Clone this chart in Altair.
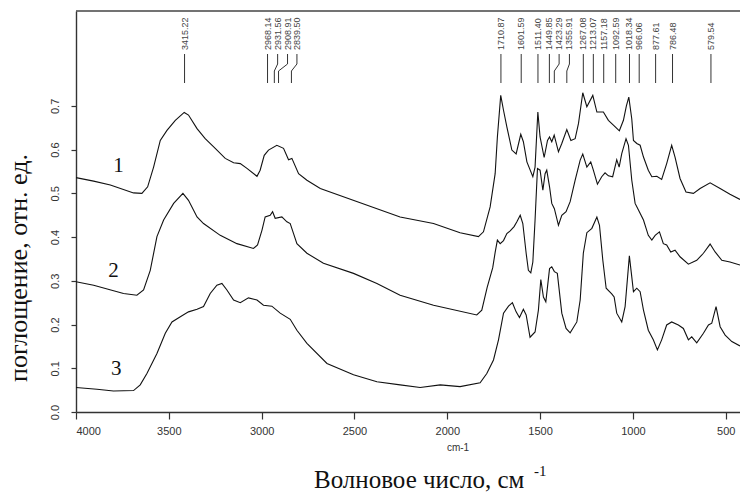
import altair as alt
import pandas as pd

# ---------------- data ----------------
wn1 = [4000, 3905, 3815, 3690, 3645, 3614, 3582, 3546, 3510, 3465, 3417, 3394, 3348, 3304, 3250, 3196,
       3151, 3115, 3079, 3025, 3008, 2986, 2963, 2918, 2882, 2855, 2837, 2801, 2756, 2684, 2254, 2074,
       1931, 1832, 1805, 1769, 1742, 1730, 1712, 1697, 1679, 1652, 1629, 1604, 1590, 1571, 1539, 1527,
       1512, 1500, 1478, 1460, 1449, 1437, 1424, 1401, 1383, 1356, 1334, 1311, 1293, 1270, 1248, 1216,
       1194, 1159, 1132, 1105, 1073, 1051, 1035, 1022, 1006, 997, 979, 961, 943, 917, 898, 871, 845,
       818, 791, 773, 746, 714, 674, 638, 584, 530, 477, 423]
a1 = [0.536, 0.528, 0.519, 0.501, 0.500, 0.515, 0.560, 0.621, 0.644, 0.667, 0.685, 0.679, 0.648, 0.625, 0.603, 0.580,
      0.570, 0.568, 0.557, 0.539, 0.553, 0.587, 0.599, 0.610, 0.603, 0.577, 0.580, 0.545, 0.530, 0.511, 0.446, 0.431,
      0.410, 0.401, 0.412, 0.469, 0.545, 0.629, 0.724, 0.690, 0.652, 0.599, 0.590, 0.635, 0.618, 0.572, 0.538, 0.560,
      0.686, 0.629, 0.582, 0.621, 0.629, 0.618, 0.633, 0.595, 0.614, 0.646, 0.621, 0.625, 0.660, 0.730, 0.698, 0.724,
      0.686, 0.686, 0.667, 0.656, 0.643, 0.667, 0.700, 0.720, 0.670, 0.621, 0.614, 0.610, 0.583, 0.553, 0.538, 0.539, 0.532,
      0.568, 0.610, 0.583, 0.534, 0.503, 0.500, 0.511, 0.524, 0.511, 0.498, 0.486]

wn2 = [4000, 3905, 3744, 3672, 3636, 3600, 3564, 3528, 3474, 3424, 3394, 3348, 3313, 3223, 3133, 3044,
       3022, 2998, 2981, 2954, 2941, 2927, 2891, 2864, 2846, 2828, 2810, 2756, 2667, 2505, 2379, 2254,
       2074, 1841, 1814, 1785, 1755, 1742, 1730, 1715, 1697, 1679, 1661, 1640, 1625, 1607, 1593, 1575,
       1563, 1550, 1539, 1527, 1514, 1500, 1485, 1473, 1464, 1449, 1437, 1423, 1401, 1383, 1360, 1338,
       1311, 1284, 1270, 1248, 1227, 1213, 1191, 1168, 1150, 1132, 1109, 1087, 1074, 1060, 1037, 1024,
       1006, 988, 970, 943, 917, 898, 880, 857, 836, 818, 796, 773, 746, 701, 656, 620, 584, 557, 521, 477, 423]
a2 = [0.298, 0.290, 0.271, 0.267, 0.279, 0.324, 0.401, 0.439, 0.477, 0.500, 0.484, 0.446, 0.431, 0.404, 0.385, 0.374,
      0.382, 0.416, 0.446, 0.450, 0.458, 0.443, 0.446, 0.435, 0.431, 0.408, 0.385, 0.363, 0.340, 0.317, 0.294, 0.267,
      0.244, 0.222, 0.233, 0.285, 0.330, 0.365, 0.393, 0.385, 0.392, 0.408, 0.414, 0.424, 0.435, 0.450, 0.431, 0.363,
      0.324, 0.318, 0.343, 0.439, 0.557, 0.553, 0.507, 0.545, 0.553, 0.515, 0.477, 0.465, 0.427, 0.450, 0.458, 0.481,
      0.530, 0.576, 0.590, 0.560, 0.572, 0.553, 0.521, 0.538, 0.547, 0.540, 0.538, 0.577, 0.560, 0.591, 0.625, 0.610,
      0.530, 0.477, 0.462, 0.439, 0.404, 0.393, 0.404, 0.412, 0.385, 0.382, 0.366, 0.370, 0.355, 0.338, 0.347, 0.363,
      0.384, 0.366, 0.347, 0.343, 0.336]

wn3 = [4000, 3887, 3798, 3690, 3654, 3618, 3564, 3519, 3483, 3438, 3394, 3348, 3313, 3277, 3241, 3214,
       3187, 3151, 3115, 3071, 3025, 2990, 2945, 2900, 2846, 2810, 2756, 2648, 2505, 2379, 2254, 2146,
       2038, 1931, 1823, 1787, 1751, 1724, 1697, 1670, 1649, 1629, 1611, 1590, 1575, 1554, 1527, 1509,
       1496, 1482, 1469, 1449, 1437, 1423, 1407, 1383, 1360, 1338, 1302, 1284, 1267, 1248, 1221, 1194,
       1180, 1162, 1144, 1114, 1101, 1087, 1060, 1042, 1019, 1006, 997, 979, 961, 943, 917, 890, 868,
       845, 818, 791, 755, 728, 701, 683, 656, 620, 593, 575, 552, 530, 503, 467, 423]
a3 = [0.056, 0.052, 0.048, 0.049, 0.062, 0.088, 0.134, 0.180, 0.206, 0.218, 0.229, 0.235, 0.241, 0.271, 0.290, 0.294,
      0.279, 0.256, 0.250, 0.261, 0.256, 0.244, 0.242, 0.226, 0.212, 0.187, 0.157, 0.111, 0.085, 0.069, 0.062, 0.056,
      0.062, 0.058, 0.067, 0.088, 0.119, 0.165, 0.226, 0.242, 0.250, 0.229, 0.216, 0.235, 0.222, 0.171, 0.183, 0.233,
      0.303, 0.263, 0.252, 0.328, 0.332, 0.321, 0.317, 0.226, 0.191, 0.181, 0.206, 0.256, 0.363, 0.410, 0.420, 0.446,
      0.427, 0.347, 0.283, 0.270, 0.263, 0.226, 0.206, 0.241, 0.357, 0.309, 0.275, 0.283, 0.275, 0.233, 0.187, 0.165, 0.142,
      0.165, 0.199, 0.206, 0.199, 0.191, 0.165, 0.172, 0.158, 0.180, 0.199, 0.203, 0.241, 0.195, 0.176, 0.161, 0.151]

curve_names = ["1", "2", "3"]
curve_lbl_wn = [3771, 3798, 3783]
curve_lbl_a = [0.549, 0.309, 0.085]

peak_wn = [3415.22, 2968.14, 2931.56, 2908.91, 2839.50, 1710.87, 1601.59, 1511.40, 1449.85, 1423.29,
           1355.91, 1267.08, 1213.07, 1157.18, 1092.59, 1018.34, 966.06, 877.61, 786.48, 579.54]
peak_lbl = ["3415.22", "2968.14", "2931.56", "2908.91", "2839.50", "1710.87", "1601.59", "1511.40",
            "1449.85", "1423.29", "1355.91", "1267.08", "1213.07", "1157.18", "1092.59", "1018.34",
            "966.06", "877.61", "786.48", "579.54"]

x_ticks = [4000, 3500, 3000, 2500, 2000, 1500, 1000, 500]
y_ticks = [0.0, 0.1, 0.2, 0.3, 0.4, 0.5, 0.6, 0.7]

# ---------------- layout / style ----------------
W, H = 664, 401
XDOM = [4000, 423]
YDOM = [0, 0.917]
# label of a peak marker is drawn shifted right (px) with a jogged leader line
lbl_shift_px = [0, 0, 3.3, 9, 5.5, 0, 0, 0, 0, 4.8, 2.6, 0, 0, 0, 0, 0, 0, 0, 0, 0]

rows = []
for name, ws, vs in zip(curve_names, [wn1, wn2, wn3], [a1, a2, a3]):
    assert len(ws) == len(vs), (name, len(ws), len(vs))
    for i, (w, v) in enumerate(zip(ws, vs)):
        rows.append({"curve": name, "i": i, "wn": w, "a": v})
spec = pd.DataFrame(rows)

px_per_wn = W / (XDOM[0] - XDOM[1])
ann = pd.DataFrame({
    "wn": peak_wn,
    "label": peak_lbl,
    "lx": [w - s / px_per_wn for w, s in zip(peak_wn, lbl_shift_px)],
})
clbl = pd.DataFrame({"name": curve_names, "wn": curve_lbl_wn, "a": curve_lbl_a})
one = pd.DataFrame({"k": [0]})

xs = alt.Scale(domain=XDOM, nice=False, zero=False)
ys = alt.Scale(domain=YDOM, nice=False, zero=False)

xaxis = alt.Axis(
    values=x_ticks, format="d", title=None, grid=False, tickSize=7, labelPadding=6,
    labelFont="Liberation Sans", labelFontSize=11, labelColor="#333333",
    domainColor="#333333", domainWidth=1.4, tickColor="#333333", tickWidth=1.2)
yaxis = alt.Axis(
    values=y_ticks, format=".1f", title=None, grid=False, tickSize=5, labelPadding=11,
    labelAngle=270, labelAlign="center", labelBaseline="bottom",
    labelFont="Liberation Sans", labelFontSize=11, labelColor="#333333",
    domainColor="#333333", domainWidth=1.4, tickColor="#333333", tickWidth=1.2)

lines = alt.Chart(spec).mark_line(color="#111111", strokeWidth=1.1).encode(
    x=alt.X("wn:Q", scale=xs, axis=xaxis),
    y=alt.Y("a:Q", scale=ys, axis=yaxis),
    detail="curve:N",
    order="i:Q",
)

top_line = alt.Chart(one).mark_rule(color="#444444", strokeWidth=1.4).encode(
    x=alt.value(0), x2=alt.value(W), y=alt.value(0))

seg_top = alt.Chart(ann).mark_rule(color="#333333", strokeWidth=1).encode(
    x=alt.X("lx:Q", scale=xs, axis=xaxis), y=alt.value(43), y2=alt.value(53))
seg_mid = alt.Chart(ann).mark_rule(color="#333333", strokeWidth=1).encode(
    x=alt.X("lx:Q", scale=xs, axis=xaxis), x2="wn:Q", y=alt.value(53), y2=alt.value(60))
seg_bot = alt.Chart(ann).mark_rule(color="#333333", strokeWidth=1).encode(
    x=alt.X("wn:Q", scale=xs, axis=xaxis), y=alt.value(60), y2=alt.value(72))
peak_text = alt.Chart(ann).mark_text(
    angle=270, align="left", baseline="middle", font="Liberation Sans", fontSize=9, color="#444444"
).encode(x=alt.X("lx:Q", scale=xs, axis=xaxis), y=alt.value(39), text="label:N")

curve_text = alt.Chart(clbl).mark_text(
    align="center", baseline="alphabetic", font="Liberation Serif", fontSize=21, color="#111111"
).encode(x=alt.X("wn:Q", scale=xs, axis=xaxis), y=alt.Y("a:Q", scale=ys, axis=yaxis), text="name:N")

ytitle = alt.Chart(one).mark_text(
    text="поглощение, отн. ед.", angle=270, align="center", baseline="alphabetic",
    font="Liberation Serif", fontSize=26, color="#111111"
).encode(x=alt.value(-49), y=alt.value(257))

cm_text = alt.Chart(one).mark_text(
    text="cm-1", align="center", baseline="middle", font="Liberation Sans", fontSize=10, color="#333333"
).encode(x=alt.value(382), y=alt.value(437))

xtitle = alt.Chart(one).mark_text(
    text="Волновое число, см", align="left", baseline="alphabetic",
    font="Liberation Serif", fontSize=25, color="#111111"
).encode(x=alt.value(238), y=alt.value(477))
xsup = alt.Chart(one).mark_text(
    text="-1", align="left", baseline="alphabetic",
    font="Liberation Serif", fontSize=15, color="#111111"
).encode(x=alt.value(458), y=alt.value(465))

chart = alt.layer(
    lines, top_line, seg_top, seg_mid, seg_bot, peak_text, curve_text, ytitle, cm_text, xtitle, xsup
).properties(
    width=W, height=H,
    autosize=alt.AutoSizeParams(type="none"),
    padding={"left": 76, "top": 11, "right": 0, "bottom": 83},
    background="white",
).configure_view(stroke=None)

chart.save("out.html", embed_options={"renderer": "svg", "actions": False})
